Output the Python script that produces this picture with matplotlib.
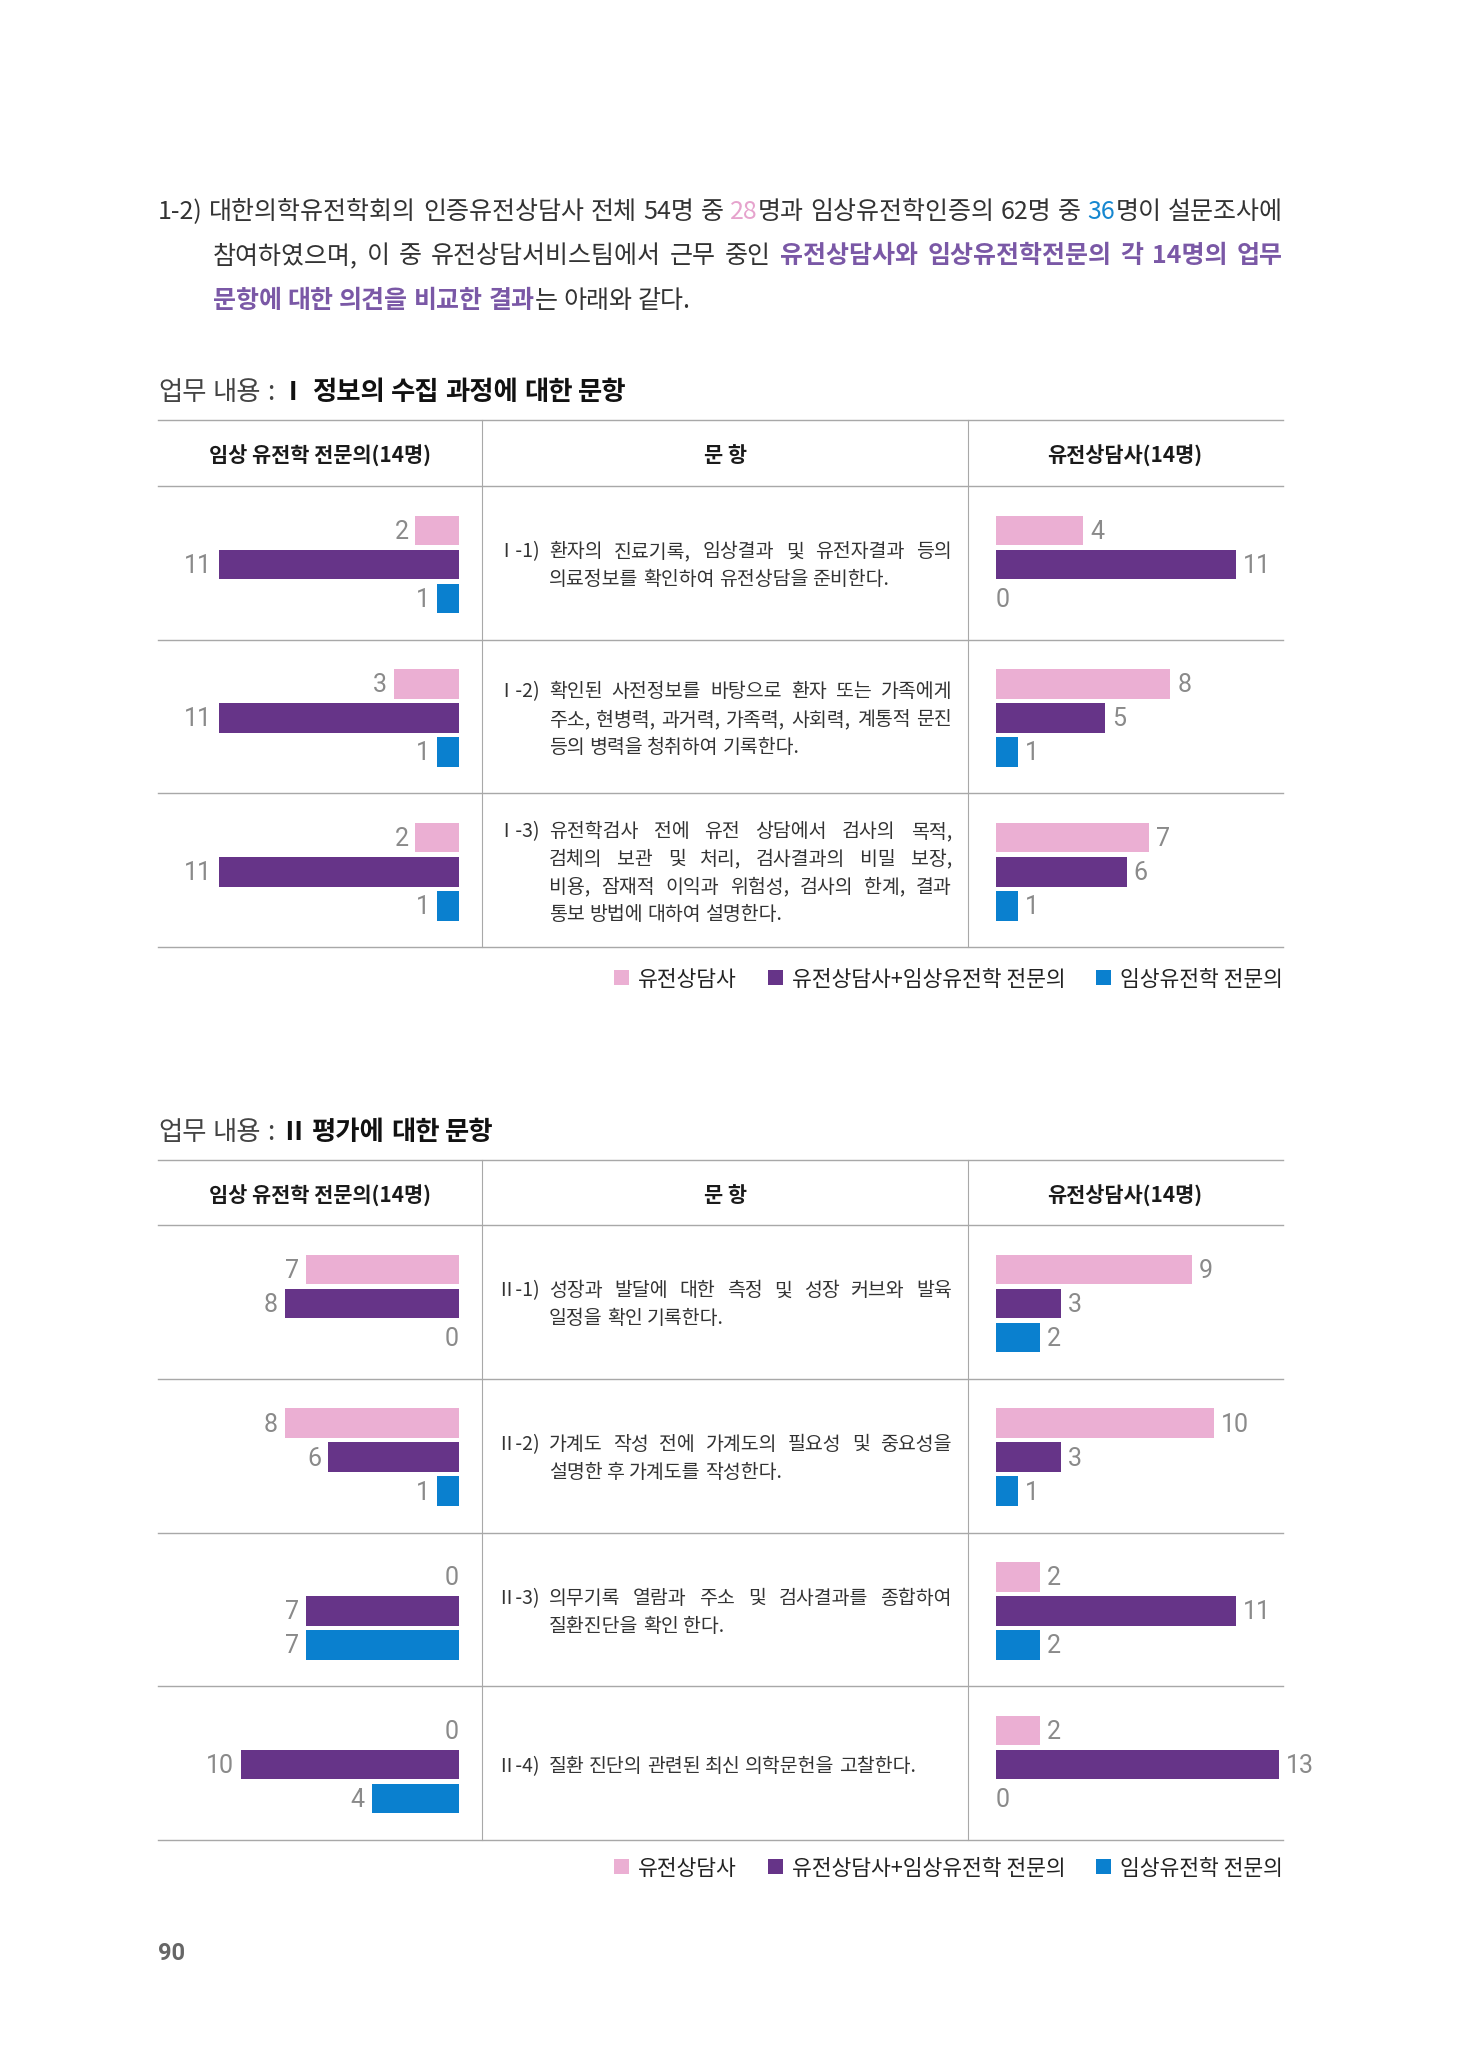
import numpy as np
import matplotlib
matplotlib.use('Agg')
import matplotlib.pyplot as plt
from matplotlib import font_manager
from matplotlib.patches import Rectangle

plt.rcParams['font.family'] = ['Noto Sans CJK KR', 'DejaVu Sans']

# 데이터: 각 문항별 응답 수 (유전상담사 / 유전상담사+임상유전학 전문의 / 임상유전학 전문의)
series = ['유전상담사', '유전상담사+임상유전학 전문의', '임상유전학 전문의']
series_colors = ['#EBAFD3', '#663488', '#0A80CF']

# 표 I : 정보의 수집 과정
t1_doc_gc = [2, 3, 2]
t1_doc_both = [11, 11, 11]
t1_doc_cg = [1, 1, 1]
t1_gc_gc = [4, 8, 7]
t1_gc_both = [11, 5, 6]
t1_gc_cg = [0, 1, 1]

# 표 II : 평가
t2_doc_gc = [7, 8, 0, 0]
t2_doc_both = [8, 6, 7, 10]
t2_doc_cg = [0, 1, 7, 4]
t2_gc_gc = [9, 10, 2, 2]
t2_gc_both = [3, 3, 11, 13]
t2_gc_cg = [2, 1, 2, 0]

t1_items = [
    ('Ⅰ-1)', ['환자의 진료기록, 임상결과 및 유전자결과 등의',
              '의료정보를 확인하여 유전상담을 준비한다.']),
    ('Ⅰ-2)', ['확인된 사전정보를 바탕으로 환자 또는 가족에게',
              '주소, 현병력, 과거력, 가족력, 사회력, 계통적 문진',
              '등의 병력을 청취하여 기록한다.']),
    ('Ⅰ-3)', ['유전학검사 전에 유전 상담에서 검사의 목적,',
              '검체의 보관 및 처리, 검사결과의 비밀 보장,',
              '비용, 잠재적 이익과 위험성, 검사의 한계, 결과',
              '통보 방법에 대하여 설명한다.']),
]
t2_items = [
    ('Ⅱ-1)', ['성장과 발달에 대한 측정 및 성장 커브와 발육',
              '일정을 확인 기록한다.']),
    ('Ⅱ-2)', ['가계도 작성 전에 가계도의 필요성 및 중요성을',
              '설명한 후 가계도를 작성한다.']),
    ('Ⅱ-3)', ['의무기록 열람과 주소 및 검사결과를 종합하여',
              '질환진단을 확인 한다.']),
    ('Ⅱ-4)', ['질환 진단의 관련된 최신 의학문헌을 고찰한다.']),
]

names = {f.name for f in font_manager.fontManager.ttflist}
num_font = next((n for n in ['Roboto', 'Liberation Sans'] if n in names), 'DejaVu Sans')

W, H = 1480, 2047
PX = 21.8          # 1명당 픽셀
DY = 3             # 한글 텍스트 세로 보정
fig = plt.figure(figsize=(W / 100, H / 100), dpi=100)
bg = fig.add_axes([0, 0, 1, 1])
bg.set_xlim(0, W)
bg.set_ylim(H, 0)
bg.axis('off')
renderer = fig.canvas.get_renderer()

STYLES = {
    'n': dict(color='#333333'),
    'pk': dict(color='#E6A3CD'),
    'bl': dict(color='#1687D0'),
    'pu': dict(color='#7A58A6', weight='bold'),
    't': dict(color='#444444'),
    'tb': dict(color='#111111', weight='bold'),
    'm': dict(color='#333333'),
}


def wid(t):
    return t.get_window_extent(renderer).width


def space_w(size):
    a = bg.text(0, 0, '가 가', fontsize=size)
    b = bg.text(0, 0, '가가', fontsize=size)
    s = wid(a) - wid(b)
    a.remove()
    b.remove()
    return s


def to_words(runs):
    words = [[]]
    for txt, st in runs:
        for k, part in enumerate(txt.split(' ')):
            if k > 0:
                words.append([])
            if part:
                words[-1].append((part, st))
    return [w for w in words if w]


def put_line(runs, x0, y, size, x1=None):
    words = to_words(runs)
    texts, widths = [], []
    for word in words:
        pcs = [bg.text(0, y + DY, s, fontsize=size, va='center', ha='left', **STYLES[st]) for s, st in word]
        texts.append(pcs)
        widths.append(sum(wid(p) for p in pcs))
    gap = space_w(size)
    if x1 is not None and len(words) > 1:
        gap = (x1 - x0 - sum(widths)) / (len(words) - 1)
    x = x0
    for pcs in texts:
        for p in pcs:
            p.set_x(x)
            x += wid(p)
        x += gap


# 도입 문단
intro = [
    ([('1-2) 대한의학유전학회의 인증유전상담사 전체 54명 중 ', 'n'), ('28', 'pk'),
      ('명과 임상유전학인증의 62명 중 ', 'n'), ('36', 'bl'), ('명이 설문조사에', 'n')], 158, 209, True),
    ([('참여하였으며, 이 중 유전상담서비스팀에서 근무 중인 ', 'n'),
      ('유전상담사와 임상유전학전문의 각 14명의 업무', 'pu')], 213, 253, True),
    ([('문항에 대한 의견을 비교한 결과', 'pu'), ('는 아래와 같다.', 'n')], 213, 298, False),
]
for runs, x0, y, just in intro:
    put_line(runs, x0, y, 18, 1283 if just else None)

LINE = '#A8A8A8'


def table(title, top, rows_top, row_h, items, left_groups, right_groups, legend_y):
    n = len(items)
    bottom = rows_top + n * row_h
    put_line([('업무 내용 : ', 't'), (title, 'tb')], 158, top - 31, 19)
    for y in [top, rows_top] + [rows_top + (i + 1) * row_h for i in range(n)]:
        bg.plot([158, 1283], [y, y], color=LINE, lw=1.0)
    for x in (482, 968):
        bg.plot([x, x], [top, bottom], color=LINE, lw=0.8)
    hy = (top + rows_top) / 2 + DY
    for x, s in [(320, '임상 유전학 전문의(14명)'), (725, '문 항'), (1125, '유전상담사(14명)')]:
        bg.text(x, hy, s, fontsize=15, weight='bold', color='#1A1A1A', ha='center', va='center')

    # 문항 텍스트 (양쪽 정렬)
    for i, (pre, lines) in enumerate(items):
        cy = rows_top + (i + 0.5) * row_h
        y0 = cy - (len(lines) - 1) / 2 * 27.8
        bg.text(496, y0 + DY, pre, fontsize=14, color='#333333', va='center', ha='left')
        for k, ln in enumerate(lines):
            last = k == len(lines) - 1
            put_line([(ln, 'm')], 549, y0 + k * 27.8, 14, None if last else 952)

    # 막대 패널
    for groups, x_l, x_r, mirror in [(left_groups, 158, 459, True), (right_groups, 996, 1283, False)]:
        ax = fig.add_axes([x_l / W, 1 - bottom / H, (x_r - x_l) / W, (bottom - rows_top) / H])
        ax.axis('off')
        span = (x_r - x_l) / PX
        ax.set_xlim((span, 0) if mirror else (0, span))
        ax.set_ylim(n, 0)
        rows = np.arange(n) + 0.5
        for k, (vals, col) in enumerate(zip(groups, series_colors)):
            ys = rows + (k - 1) * 34 / row_h + 1.5 / row_h
            ax.barh(ys, vals, height=29.5 / row_h, color=col, label=series[k])
            for yv, v in zip(ys, vals):
                off = 5 if v else 0
                ax.annotate(str(v), (v, yv), xytext=(-off if mirror else off, -1),
                            textcoords='offset points', ha='right' if mirror else 'left',
                            va='center', fontsize=18, color='#8A8A8A', family=num_font,
                            annotation_clip=False)

    # 범례 (오른쪽 정렬)
    x = 1283
    for s, col in reversed(list(zip(series, series_colors))):
        t = bg.text(x, legend_y + DY, s, fontsize=15.5, color='#222222', ha='right', va='center')
        w = wid(t)
        bg.add_patch(Rectangle((x - w - 9 - 15, legend_y - 7.5), 15, 15, color=col, lw=0))
        x = x - w - 9 - 15 - 31


table('Ⅰ 정보의 수집 과정에 대한 문항', 420, 486, 153.7, t1_items,
      [t1_doc_gc, t1_doc_both, t1_doc_cg], [t1_gc_gc, t1_gc_both, t1_gc_cg], 977)
table('Ⅱ 평가에 대한 문항', 1160, 1225, 153.75, t2_items,
      [t2_doc_gc, t2_doc_both, t2_doc_cg], [t2_gc_gc, t2_gc_both, t2_gc_cg], 1866)

bg.text(158, 1954, '90', fontsize=17, weight='bold', color='#666666', va='center', ha='left', family=num_font)

fig.savefig('out.png', dpi=100, facecolor='white')
